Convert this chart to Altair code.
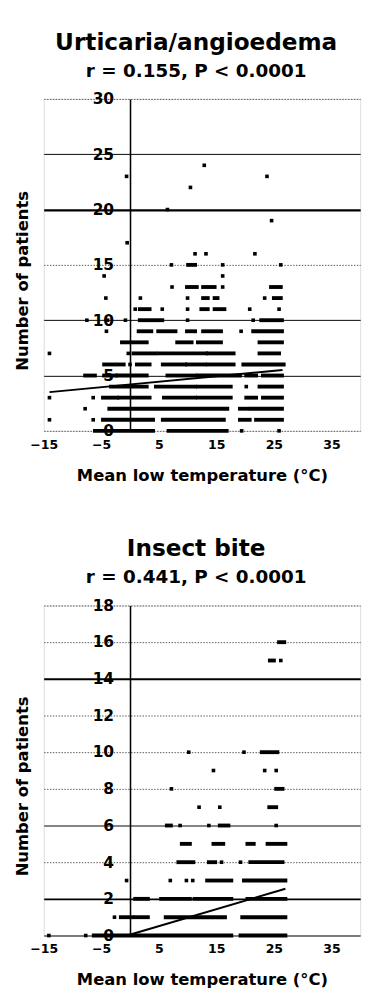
import altair as alt
import pandas as pd

# ---------------- Panel 1: Urticaria/angioedema ----------------
p1_pt_x = [12.9, -0.6, 23.8, 10.5, 6.5, 24.6, -0.5, 11.3, 13.2, 21.7, 7.2, 16.1, 26.2,
           -4.5, 16.1, 7.3, 16.1, -4.2, 1.8, 10.0, 23.4, 0.9, 5.6, 10.0, 20.8, 25.9,
           -7.5, -3.9, -0.8, 10.0, 21.4, -4.1, 19.3, -14.0, -0.3, 0.0, 20.2, -14.0, -6.4,
           -7.8, -14.0, -6.4, 19.4, 25.9]
p1_pt_y = [24, 23, 23, 22, 20, 19, 17, 16, 16, 16, 15, 15, 15,
           14, 14, 13, 13, 12, 12, 12, 12, 11, 11, 11, 11, 11,
           10, 10, 10, 10, 10, 9, 9, 7, 7, 6, 4, 3, 3,
           2, 1, 1, 0, 0]

p1_run_y = [15,
            13, 13, 13,
            12, 12, 12,
            11, 11, 11,
            10, 10,
            9, 9, 9, 9, 9,
            8, 8, 8, 8,
            7, 7, 7, 7,
            6, 6, 6, 6, 6, 6, 6,
            5, 5, 5, 5, 5, 5, 5,
            4, 4, 4, 4,
            3, 3, 3, 3, 3, 3,
            2, 2, 2,
            1, 1, 1, 1,
            0, 0]
p1_run_x0 = [10.1,
             9.9, 12.7, 24.5,
             12.7, 14.7, 25.0,
             1.7, 12.4, 14.7,
             1.7, 22.8,
             1.5, 4.9, 9.9, 12.7, 21.4,
             -1.4, 8.2, 11.8, 22.5,
             0.6, 5.1, 13.5, 22.5,
             -4.5, -2.2, 1.2, 5.7, 9.9, 13.5, 19.7,
             -7.8, -4.5, -2.2, 6.5, 11.8, 20.2, 23.1,
             -3.3, 4.5, 11.8, 22.5,
             -4.7, -1.9, 5.9, 11.8, 20.2, 23.1,
             -3.6, 19.1, 20.8,
             -4.7, 5.7, 19.1, 21.9,
             -6.1, 6.7]
p1_run_x1 = [11.3,
             11.6, 14.7, 26.2,
             13.5, 15.2, 26.2,
             3.4, 13.5, 16.4,
             5.6, 26.4,
             3.7, 7.9, 11.3, 15.8, 26.4,
             2.9, 10.7, 15.8, 26.4,
             4.5, 13.2, 18.0, 25.9,
             -2.8, -1.1, 3.4, 9.6, 13.0, 18.0, 26.7,
             -6.1, -2.5, 2.9, 11.3, 19.1, 21.9, 26.4,
             2.9, 11.3, 17.5, 26.4,
             -2.2, 3.4, 11.3, 17.5, 21.9, 26.4,
             16.9, 20.2, 26.4,
             4.0, 16.3, 20.8, 26.4,
             4.0, 16.8]
p1_fit_x = [-14.0, 26.5]
p1_fit_y = [3.5, 5.5]
p1_yticks = [0, 5, 10, 15, 20, 25, 30]

# ---------------- Panel 2: Insect bite ----------------
p2_pt_x = [26.2, 10.2, 19.8, 14.5, 23.4, 25.4, 7.2, 12.0, 15.6, 8.7, 13.7, 25.4,
           15.9, 19.2, -0.6, 7.0, 9.8, 10.9, -2.7, -14.1, -7.7]
p2_pt_y = [15, 10, 10, 9, 9, 9, 8, 7, 7, 6, 6, 6,
           4, 4, 3, 3, 3, 3, 1, 0, 0]

p2_run_y = [16, 15, 10, 8, 7,
            6, 6,
            5, 5, 5, 5,
            4, 4, 4,
            3, 3,
            2, 2, 2, 2,
            1, 1, 1, 1,
            0, 0]
p2_run_x0 = [25.9, 24.3, 22.9, 25.4, 24.2,
             6.4, 15.6,
             9.0, 14.5, 20.4, 23.9,
             8.4, 13.7, 20.9,
             13.4, 19.8,
             0.9, 5.4, 11.2, 20.4,
             -1.6, 0.9, 6.2, 19.5,
             -6.3, 19.2]
p2_run_x1 = [26.8, 25.0, 25.6, 26.5, 25.4,
             7.1, 17.1,
             10.4, 16.2, 21.5, 27.0,
             11.0, 14.8, 26.5,
             17.6, 27.0,
             3.1, 10.4, 17.6, 27.0,
             0.4, 3.1, 16.5, 27.0,
             17.6, 27.0]
p2_fit_x = [-0.5, 27.0]
p2_fit_y = [0.0, 2.55]
p2_yticks = [0, 2, 4, 6, 8, 10, 12, 14, 16, 18]

x_ticks = [-15, -5, 5, 15, 25, 35]
x_title = "Mean low temperature (°C)"
y_title = "Number of patients"

W = 328
XMIN, XMAX = -15, 40
Y_OFFSET = -(0 - XMIN) * W / (XMAX - XMIN)

LAB_FONT = "DejaVu Sans"


def panel(pt_x, pt_y, run_y, run_x0, run_x1, fit_x, fit_y, yticks, ymax, height,
          title, subtitle, dotted_test, thick_test, thick_w):
    pts = pd.DataFrame({"x": pt_x, "y": pt_y})
    runs = pd.DataFrame({"x": run_x0, "xe": run_x1, "y": run_y})
    fit = pd.DataFrame({"x": fit_x, "y": fit_y})

    xs = alt.Scale(domain=[XMIN, XMAX], nice=False, zero=False)
    ys = alt.Scale(domain=[0, ymax], nice=False)

    x_axis = alt.Axis(values=x_ticks, tickCount=20, format="d", title=x_title, grid=False,
                      domain=False, ticks=False, labelFlush=False, labelFont=LAB_FONT,
                      labelFontSize=13, labelFontWeight="bold", labelColor="black",
                      labelPadding=8, titleFont=LAB_FONT, titleFontSize=17,
                      titleFontWeight="bold", titleColor="black", titlePadding=17)
    y_axis = alt.Axis(values=yticks, tickCount=30, format="d", title=y_title,
                      offset=Y_OFFSET,
                      domain=True, domainColor="black", domainWidth=1.6,
                      ticks=False, tickSize=0, labelPadding=17,
                      labelFont=LAB_FONT, labelFontSize=16, labelFontWeight="bold",
                      labelColor="black", labelOverlap=False,
                      grid=True,
                      gridColor={"condition": {"test": dotted_test, "value": "#555555"},
                                 "value": "black"},
                      gridDash={"condition": {"test": dotted_test, "value": [1.5, 1.5]},
                                "value": []},
                      gridWidth={"condition": {"test": thick_test, "value": thick_w},
                                 "value": 1},
                      titleFont=LAB_FONT, titleFontSize=17, titleFontWeight="bold",
                      titleColor="black", titleAngle=270, titleBaseline="bottom",
                      titleAlign="center", titleX=-102, titleY=height / 2 + 16)

    rules = alt.Chart(runs).mark_rule(color="black", strokeWidth=4, strokeCap="square").encode(
        x=alt.X("x:Q", scale=xs, axis=x_axis),
        x2="xe:Q",
        y=alt.Y("y:Q", scale=ys, axis=y_axis),
    )
    dots = alt.Chart(pts).mark_square(color="black", size=14, opacity=1).encode(
        x=alt.X("x:Q", scale=xs),
        y=alt.Y("y:Q", scale=ys),
    )
    line = alt.Chart(fit).mark_line(color="black", strokeWidth=2).encode(
        x=alt.X("x:Q", scale=xs),
        y=alt.Y("y:Q", scale=ys),
    )
    return alt.layer(rules, dots, line).properties(
        width=W, height=height,
        title=alt.TitleParams(text=title, subtitle=subtitle, anchor="middle",
                              frame="group", dx=-6, font=LAB_FONT, fontSize=24,
                              fontWeight="bold", color="black",
                              subtitleFont=LAB_FONT, subtitleFontSize=19,
                              subtitleFontWeight="bold", subtitleColor="black",
                              subtitlePadding=8, offset=11),
    )


top = panel(p1_pt_x, p1_pt_y, p1_run_y, p1_run_x0, p1_run_x1, p1_fit_x, p1_fit_y,
            p1_yticks, 30, 344, "Urticaria/angioedema", "r = 0.155, P < 0.0001",
            "datum.value == 15 || datum.value == 0 || datum.value == 30",
            "datum.value == 20", 2.5)
bottom = panel(p2_pt_x, p2_pt_y, p2_run_y, p2_run_x0, p2_run_x1, p2_fit_x, p2_fit_y,
               p2_yticks, 18, 342, "Insect bite", "r = 0.441, P < 0.0001",
               "datum.value != 0 && datum.value != 2 && datum.value != 6 && datum.value != 14",
               "datum.value == 14 || datum.value == 2", 2)

chart = alt.vconcat(top, bottom, spacing=55).configure_view(
    stroke="#888888", strokeDash=[1, 1], strokeWidth=1
).configure(background="white")

chart.save("out.html", embed_options={"renderer": "svg", "actions": False})
